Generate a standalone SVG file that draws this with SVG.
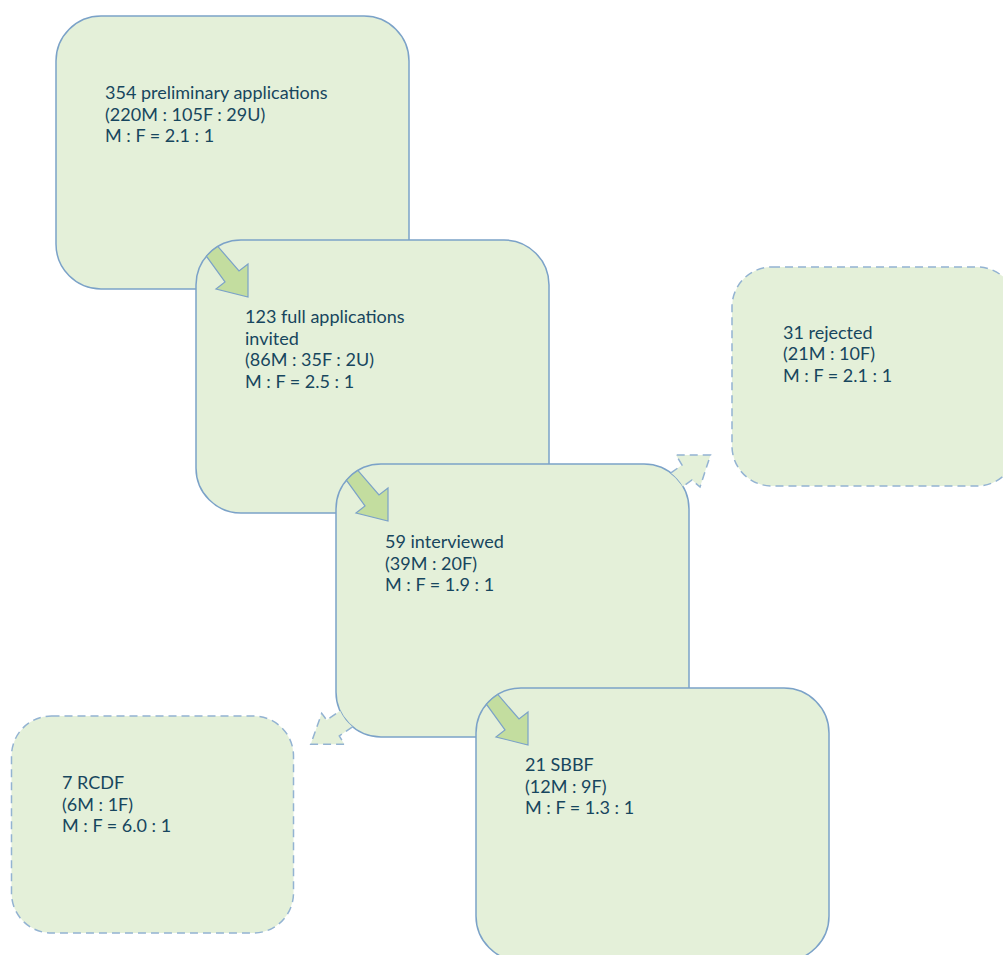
<svg xmlns="http://www.w3.org/2000/svg" width="1003" height="955" viewBox="0 0 1003 955">
<style>
.box{fill:#e4f0d9;stroke:#7ba2c8;stroke-width:1.5}
.dbox{fill:#e4f0d9;stroke:#93b3d2;stroke-width:1.5;stroke-dasharray:8 5}
.t{font-family:Lato,"Open Sans","Liberation Sans",sans-serif;font-size:18px;fill:#17465e}
.arr{fill:#c3dd9f;stroke:#7ba2c8;stroke-width:1.2;stroke-linejoin:miter}
.darrf{fill:#e4f0d9;stroke:none}
.darrs{fill:none;stroke:#93b3d2;stroke-width:1.5;stroke-dasharray:8 5}
</style>
<rect width="1003" height="955" fill="#ffffff"/>
<g id="node-preliminary">
<rect class="box" x="56" y="16" width="353" height="273" rx="45" ry="45"/>
<text class="t" x="105" y="99">354 preliminary applications<tspan x="105" dy="21.7">(220M : 105F : 29U)</tspan><tspan x="105" dy="21.7">M : F = 2.1 : 1</tspan></text>
</g>
<g id="node-full">
<rect class="box" x="196" y="240" width="353" height="273" rx="45" ry="45"/>
<text class="t" x="245" y="323">123 full applications<tspan x="245" dy="21.7">invited</tspan><tspan x="245" dy="21.7">(86M : 35F : 2U)</tspan><tspan x="245" dy="21.7">M : F = 2.5 : 1</tspan></text>
</g>
<g id="node-interviewed">
<rect class="box" x="336" y="464" width="353" height="273" rx="45" ry="45"/>
<text class="t" x="385" y="548">59 interviewed<tspan x="385" dy="21.7">(39M : 20F)</tspan><tspan x="385" dy="21.7">M : F = 1.9 : 1</tspan></text>
</g>
<g id="node-sbbf">
<rect class="box" x="476" y="688" width="353" height="273" rx="45" ry="45"/>
<text class="t" x="525" y="771">21 SBBF<tspan x="525" dy="21.7">(12M : 9F)</tspan><tspan x="525" dy="21.7">M : F = 1.3 : 1</tspan></text>
</g>
<g id="node-rejected">
<rect class="dbox" x="732" y="267" width="285" height="219" rx="40" ry="40"/>
<text class="t" x="783" y="338.5">31 rejected<tspan x="783" dy="21.7">(21M : 10F)</tspan><tspan x="783" dy="21.7">M : F = 2.1 : 1</tspan></text>
</g>
<g id="node-rcdf">
<rect class="dbox" x="11.5" y="716" width="282" height="217" rx="40" ry="40"/>
<text class="t" x="62" y="789">7 RCDF<tspan x="62" dy="21.7">(6M : 1F)</tspan><tspan x="62" dy="21.7">M : F = 6.0 : 1</tspan></text>
</g>
<g id="connectors">
<path class="arr" d="M217.8,246.4 L239,271 L248,264 L248,297 L216,289 L225,282 L206.4,256.2 A45,45 0 0 1 217.8,246.4 Z"/>
<path class="arr" d="M357.8,470.4 L379,495 L388,488 L388,521 L356,513 L365,506 L346.4,480.2 A45,45 0 0 1 357.8,470.4 Z"/>
<path class="arr" d="M497.8,694.4 L519,719 L528,712 L528,745 L496,737 L505,730 L486.4,704.2 A45,45 0 0 1 497.8,694.4 Z"/>
<path class="darrf" d="M670.9,472.9 L682,465 L676,455 L710.5,455 L700,487 L692,480 L682.9,486.5 A45,45 0 0 0 670.9,472.9 Z"/>
<path class="darrs" d="M670.9,472.9 L682,465 L676,455 L710.5,455 L700,487 L692,480 L682.9,486.5"/>
<path class="darrf" d="M352.5,726.8 L339.3,736 L344.3,744.3 L310.7,744.3 L321.7,713.3 L326.7,720 L340.1,710.7 A45,45 0 0 0 352.5,726.8 Z"/>
<path class="darrs" d="M352.5,726.8 L339.3,736 L344.3,744.3 L310.7,744.3 L321.7,713.3 L326.7,720 L340.1,710.7"/>
</g>
</svg>
